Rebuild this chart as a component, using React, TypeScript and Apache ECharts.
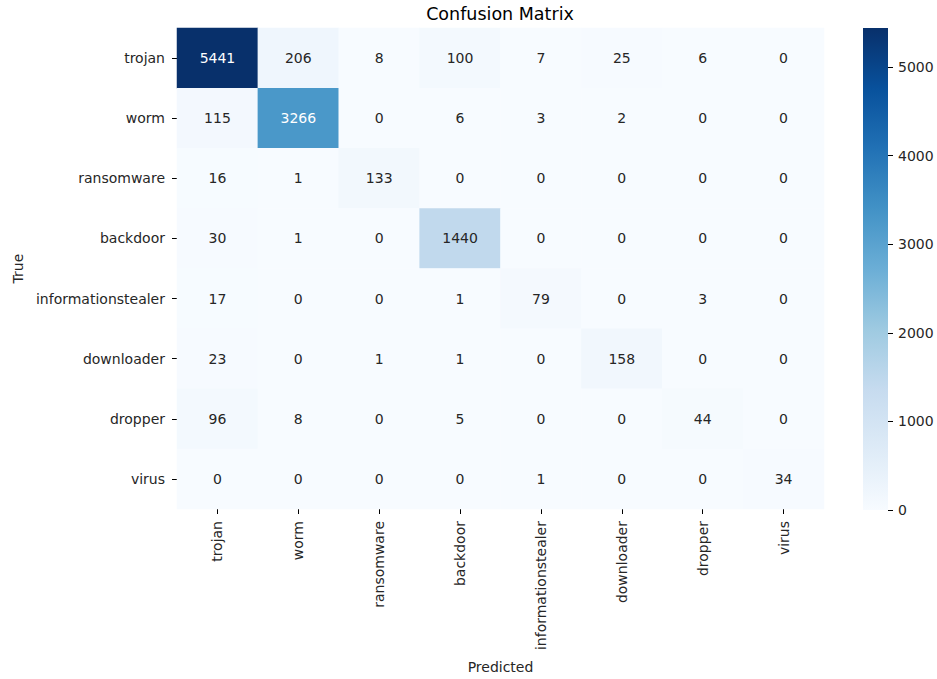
import React, { useEffect, useRef } from "react";
import * as echarts from "echarts";

const categories = [
  "trojan",
  "worm",
  "ransomware",
  "backdoor",
  "informationstealer",
  "downloader",
  "dropper",
  "virus",
];

// rows = true class, columns = predicted class
const matrix: number[][] = [
  [5441, 206, 8, 100, 7, 25, 6, 0],
  [115, 3266, 0, 6, 3, 2, 0, 0],
  [16, 1, 133, 0, 0, 0, 0, 0],
  [30, 1, 0, 1440, 0, 0, 0, 0],
  [17, 0, 0, 1, 79, 0, 3, 0],
  [23, 0, 1, 1, 0, 158, 0, 0],
  [96, 8, 0, 5, 0, 0, 44, 0],
  [0, 0, 0, 0, 1, 0, 0, 34],
];

const colorbarTicks = [0, 1000, 2000, 3000, 4000, 5000];

const blues = [
  "#f7fbff",
  "#deebf7",
  "#c6dbef",
  "#9ecae1",
  "#6baed6",
  "#4292c6",
  "#2171b5",
  "#08519c",
  "#08306b",
];

const FONT = "DejaVu Sans";

export default function App() {
  const ref = useRef<HTMLDivElement>(null);

  useEffect(() => {
    if (!ref.current) return;
    document.body.style.margin = "0";
    document.body.style.overflow = "hidden";
    const chart = echarts.init(ref.current, null, { renderer: "svg" });
    let maxV = 0;
    matrix.forEach((r) => r.forEach((v) => (maxV = Math.max(maxV, v))));
    const data: any[] = [];
    matrix.forEach((row, yi) =>
      row.forEach((v, xi) => {
        data.push({
          value: [xi, yi, v],
          label: { color: v > maxV * 0.55 ? "#ffffff" : "#262626" },
        });
      })
    );
    const gradient = new echarts.graphic.LinearGradient(
      0,
      1,
      0,
      0,
      blues.map((c, i) => ({ offset: i / (blues.length - 1), color: c }))
    );

    chart.setOption({
      animation: false,
      backgroundColor: "#ffffff",
      textStyle: { fontFamily: FONT },
      title: {
        text: "Confusion Matrix",
        left: 500,
        top: 5,
        padding: 0,
        textAlign: "center",
        textStyle: { fontFamily: FONT, fontSize: 17.5, fontWeight: "normal", color: "#000" },
      },
      grid: [
        { left: 177, right: 113, top: 28, bottom: 169 },
        { left: 863, width: 25, top: 28, height: 482 },
      ],
      xAxis: [
        {
          type: "category",
          data: categories,
          gridIndex: 0,
          position: "bottom",
          axisLine: { show: false },
          axisTick: { show: true, alignWithLabel: true, length: 5, lineStyle: { color: "#000" } },
          axisLabel: { rotate: 90, fontSize: 14, color: "#262626", fontFamily: FONT, margin: 12 },
          splitLine: { show: false },
          name: "Predicted",
          nameLocation: "middle",
          nameGap: 151,
          nameTextStyle: { fontSize: 14, color: "#262626", fontFamily: FONT },
        },
        {
          type: "category",
          gridIndex: 1,
          show: false,
          data: ["colorbar"],
        },
      ],
      yAxis: [
        {
          type: "category",
          data: categories,
          gridIndex: 0,
          inverse: true,
          axisLine: { show: false },
          axisTick: { show: true, alignWithLabel: true, length: 5, lineStyle: { color: "#000" } },
          axisLabel: { fontSize: 14, color: "#262626", fontFamily: FONT, margin: 12 },
          splitLine: { show: false },
          name: "True",
          nameLocation: "middle",
          nameGap: 152,
          nameRotate: 90,
          nameTextStyle: { fontSize: 14, color: "#262626", fontFamily: FONT },
        },
        {
          type: "value",
          gridIndex: 1,
          position: "right",
          min: 0,
          max: maxV,
          axisLine: { show: false },
          axisTick: {
            show: true,
            length: 5,
            lineStyle: { color: "#000", width: 1 },
            customValues: colorbarTicks,
          },
          axisLabel: {
            fontSize: 14,
            color: "#262626",
            fontFamily: FONT,
            margin: 10,
            customValues: colorbarTicks,
            formatter: (v: number) => String(v),
          },
          splitLine: { show: false },
        },
      ],
      visualMap: {
        type: "continuous",
        min: 0,
        max: maxV,
        seriesIndex: 0,
        show: false,
        inRange: { color: blues },
      },
      series: [
        {
          type: "heatmap",
          xAxisIndex: 0,
          yAxisIndex: 0,
          data,
          label: {
            show: true,
            fontSize: 14,
            fontFamily: FONT,
            formatter: (p: any) => String(p.value[2]),
          },
          itemStyle: { borderWidth: 0 },
          emphasis: { disabled: true },
        },
        {
          type: "bar",
          xAxisIndex: 1,
          yAxisIndex: 1,
          data: [maxV],
          barWidth: "100%",
          itemStyle: { color: gradient },
          emphasis: { disabled: true },
          silent: true,
        },
      ],
    });
    return () => chart.dispose();
  }, []);

  return <div ref={ref} style={{ width: 937, height: 679 }} />;
}
